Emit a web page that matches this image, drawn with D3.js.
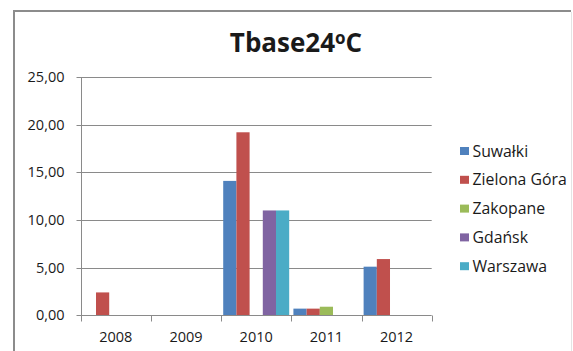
<!DOCTYPE html>
<html>
<head>
<meta charset="utf-8">
<script src="https://cdn.jsdelivr.net/npm/d3@7"></script>
<style>
  html, body { margin: 0; padding: 0; background: #fff; }
  svg { display: block; }
  text { font-family: "Open Sans", sans-serif; fill: #1a1a1a; }
</style>
</head>
<body>
<svg id="chart" width="573" height="351"></svg>
<script>
// Degree-day totals above 24 °C per year and station
const years = ["2008", "2009", "2010", "2011", "2012"];
const stations = ["Suwałki", "Zielona Góra", "Zakopane", "Gdańsk", "Warszawa"];
const suwalki     = [0, 0, 14.1, 0.7, 5.1];
const zielonaGora = [2.4, 0, 19.2, 0.7, 5.9];
const zakopane    = [0, 0, 0, 0.9, 0];
const gdansk      = [0, 0, 11.0, 0, 0];
const warszawa    = [0, 0, 11.0, 0, 0];
const yTicks = [0, 5, 10, 15, 20, 25];
const colors = ["#4F81BD", "#C0504D", "#9BBB59", "#8064A2", "#4BACC6"];

const seriesValues = [suwalki, zielonaGora, zakopane, gdansk, warszawa];
const rows = years.map((yr, i) => ({ year: yr, values: seriesValues.map(s => s[i]) }));

const svg = d3.select("#chart");

// chart frame
svg.append("path")
  .attr("d", "M14,351 V11 H571")
  .attr("fill", "none")
  .attr("stroke", "#8c8c8c")
  .attr("stroke-width", 2);
svg.append("line")
  .attr("x1", 571.5).attr("x2", 571.5).attr("y1", 12).attr("y2", 351)
  .attr("stroke", "#e4e4e4").attr("stroke-width", 1);

const plot = { left: 80.7, right: 431.7, top: 77, bottom: 315.3 };

const x = d3.scaleBand().domain(years).range([plot.left, plot.right]).paddingInner(0).paddingOuter(0);
const x1 = d3.scaleBand().domain(d3.range(stations.length))
  .range([0, x.bandwidth()]).paddingInner(0).paddingOuter(0.16);
const y = d3.scaleLinear().domain([0, 25]).range([plot.bottom, plot.top]);

// horizontal gridlines
svg.append("g")
  .selectAll("line")
  .data(yTicks.filter(t => t > 0))
  .join("line")
  .attr("x1", plot.left).attr("x2", plot.right)
  .attr("y1", d => Math.round(y(d)) + 0.5).attr("y2", d => Math.round(y(d)) + 0.5)
  .attr("stroke", "#8a8a8a").attr("stroke-width", 1);

// bars
const groups = svg.append("g").selectAll("g")
  .data(rows)
  .join("g")
  .attr("transform", d => `translate(${x(d.year)},0)`);

groups.selectAll("rect")
  .data(d => d.values.map((v, k) => ({ v, k })))
  .join("rect")
  .attr("x", d => x1(d.k))
  .attr("width", x1.bandwidth())
  .attr("y", d => y(d.v))
  .attr("height", d => y(0) - y(d.v))
  .attr("fill", d => colors[d.k]);

// y axis
const yAxis = d3.axisLeft(y)
  .tickValues(yTicks)
  .tickSize(5)
  .tickPadding(12)
  .tickFormat(d => d3.format(".2f")(d).replace(".", ","));
const gy = svg.append("g").attr("transform", `translate(${Math.round(plot.left) + 0.5},0)`).call(yAxis);
gy.select(".domain").attr("stroke", "#8a8a8a").attr("d", `M0,${plot.top}V${plot.bottom}`);
gy.selectAll(".tick line").attr("stroke", "#8a8a8a");
gy.selectAll(".tick").attr("transform", d => `translate(0,${Math.round(y(d)) + 0.5})`);
gy.selectAll(".tick text").style("font-size", "14.5px").attr("fill", "#1a1a1a")
  .style("font-family", "'Open Sans', sans-serif");

// x axis with ticks on category boundaries
const gx = svg.append("g").attr("transform", `translate(0,${Math.round(plot.bottom) + 0.5})`);
gx.append("line")
  .attr("x1", plot.left).attr("x2", plot.right)
  .attr("stroke", "#8a8a8a");
gx.selectAll("line.tk")
  .data(years.map(yr => x(yr)).concat([plot.right]))
  .join("line")
  .attr("class", "tk")
  .attr("x1", d => Math.round(d) + 0.5).attr("x2", d => Math.round(d) + 0.5)
  .attr("y1", 0).attr("y2", 6)
  .attr("stroke", "#8a8a8a");
gx.selectAll("text")
  .data(years)
  .join("text")
  .attr("x", d => x(d) + x.bandwidth() / 2)
  .attr("y", 26)
  .attr("text-anchor", "middle")
  .style("font-size", "14.5px")
  .text(d => d);

// title
const title = svg.append("text")
  .attr("x", 296).attr("y", 52)
  .attr("text-anchor", "middle")
  .style("font-size", "26px")
  .style("font-weight", "bold");
title.append("tspan").text("Tbase24");
title.append("tspan").attr("dy", -8).style("font-size", "17px").text("o");
title.append("tspan").attr("dy", 8).text("C");

// legend
const legend = svg.append("g").selectAll("g")
  .data(stations)
  .join("g")
  .attr("transform", (d, i) => `translate(460,${151 + i * 28.8})`);
legend.append("rect")
  .attr("x", 0).attr("y", -4).attr("width", 9).attr("height", 8)
  .attr("fill", (d, i) => colors[i]);
legend.append("text")
  .attr("x", 12.5).attr("y", 5.5)
  .style("font-size", "15.8px")
  .text(d => d);
</script>
</body>
</html>
